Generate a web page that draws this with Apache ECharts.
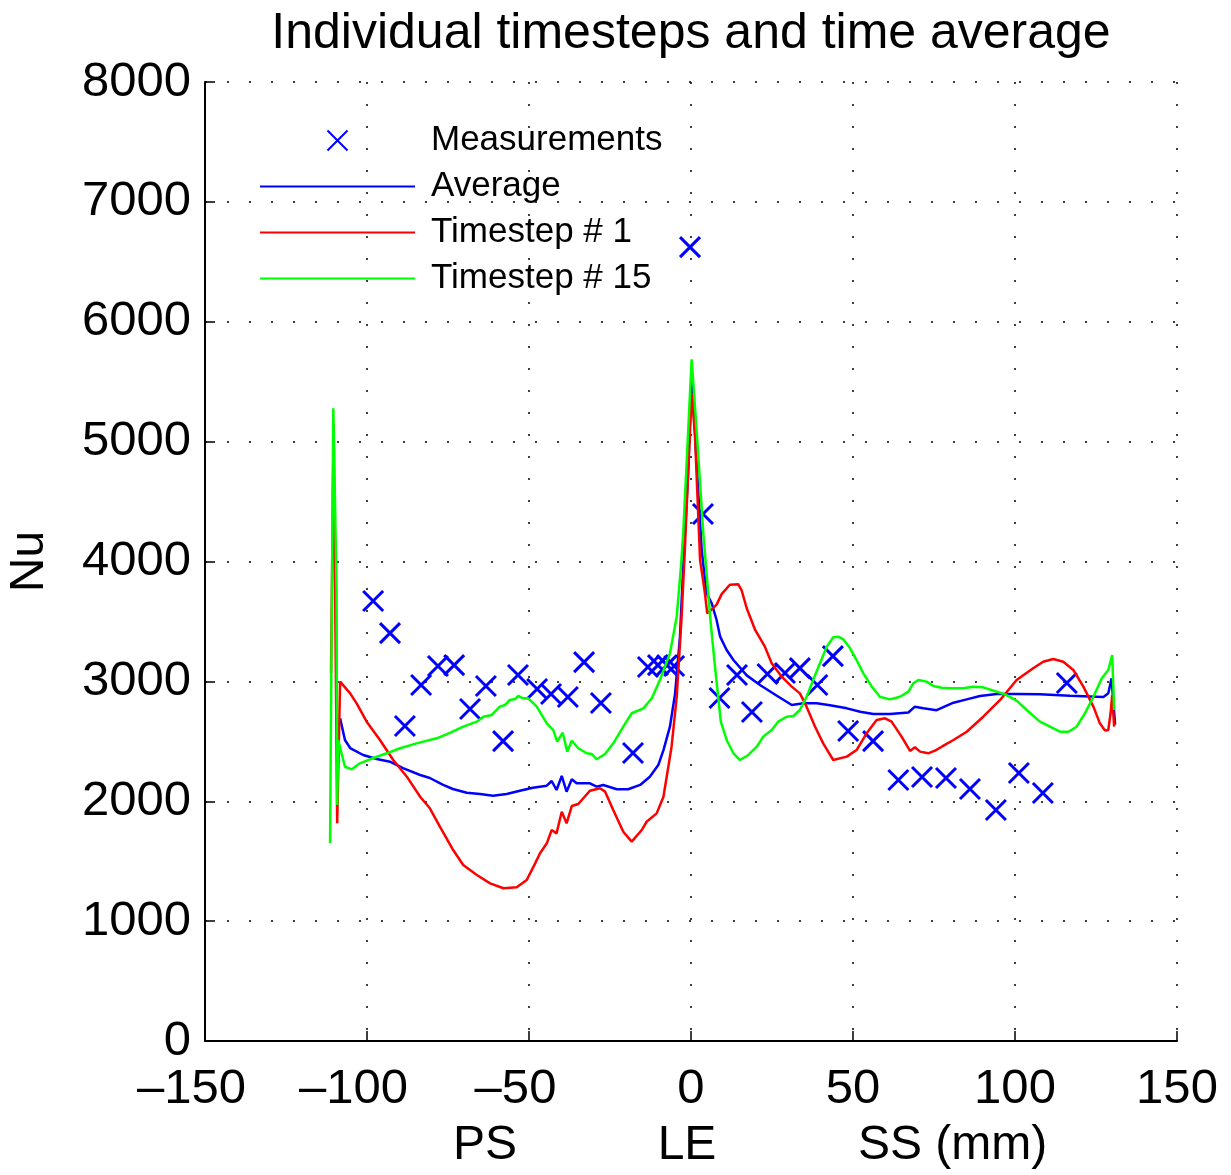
<!DOCTYPE html>
<html>
<head>
<meta charset="utf-8">
<title>Individual timesteps and time average</title>
<script src="https://cdn.jsdelivr.net/npm/echarts@6/dist/echarts.min.js"></script>
<style>
  html, body { margin: 0; padding: 0; background: #fff; }
  #chart { width: 1231px; height: 1175px; }
</style>
</head>
<body>
<div id="chart"></div>
<script>
// measured points (position along profile in mm, Nu)
const measX = [-98.1, -92.9, -88.3, -83.3, -78.1, -73.1, -68.2, -63.3, -58.0, -53.4,
  -47.5, -43.2, -38.0, -33.0, -27.8, -17.9, -13.3, -10.2, -7.4, -5.2,
  -0.3, 3.7, 8.8, 14.2, 18.8, 23.6, 29.0, 33.6, 39.0, 43.8,
  48.5, 56.2, 64.0, 71.3, 78.7, 86.1, 94.1, 101.2, 108.6, 116.0]
const measY = [3670, 3403, 2628, 2970, 3128, 3136, 2770, 2961, 2502, 3053,
  2936, 2895, 2870, 3161, 2820, 2402, 3120, 3136, 3136, 3128,
  6623, 4396, 2861, 3053, 2744, 3061, 3070, 3111, 2970, 3211,
  2586, 2502, 2177, 2202, 2194, 2102, 1927, 2236, 2069, 2986]

// time average
const avgX = [-108.3, -106.8, -105.2, -101.2, -97.0, -92.9, -88.9, -83.6, -80.6, -76.5,
  -73.5, -69.2, -65.1, -61.1, -56.9, -52.8, -48.8, -44.5, -43.0, -41.5,
  -39.9, -38.4, -36.8, -35.3, -31.2, -29.1, -27.1, -22.9, -19.4, -15.7,
  -12.7, -10.1, -8.5, -6.5, -4.9, -3.4, -2.4, -0.8, 0.2, 1.8,
  3.3, 4.8, 6.4, 7.9, 9.0, 11.0, 13.1, 17.2, 21.3, 26.5,
  31.1, 34.7, 38.8, 42.9, 48.1, 52.2, 56.3, 61.4, 67.1, 69.1,
  71.7, 75.8, 81.0, 85.1, 89.2, 94.4, 100.5, 107.7, 117.0, 127.3,
  128.8, 129.8, 130.3, 130.9]
const avgY = [2692, 2511, 2444, 2386, 2352, 2330, 2277, 2219, 2194, 2136,
  2102, 2071, 2060, 2046, 2060, 2088, 2113, 2130, 2169, 2094,
  2211, 2080, 2183, 2150, 2150, 2122, 2136, 2100, 2100, 2136,
  2205, 2302, 2427, 2622, 2900, 3373, 3957, 4791, 5570, 4791,
  4096, 3735, 3651, 3512, 3373, 3262, 3178, 3050, 2970, 2880,
  2803, 2817, 2817, 2800, 2775, 2747, 2728, 2728, 2740, 2789,
  2775, 2760, 2822, 2850, 2878, 2895, 2895, 2892, 2881, 2870,
  2900, 3026, 2845, 2640]

// timestep # 1
const ts1X = [-111.1, -110.3, -109.2, -108.3, -107.8, -105.2, -103.2, -100.1, -96.0, -91.9,
  -87.7, -83.6, -80.6, -77.5, -73.4, -70.3, -66.1, -62.0, -57.9, -53.8,
  -50.7, -48.1, -46.6, -44.5, -43.0, -41.5, -39.9, -38.4, -36.8, -34.8,
  -31.2, -28.1, -26.5, -24.0, -20.9, -18.3, -15.2, -13.7, -10.6, -8.5,
  -6.0, -4.4, -2.9, -1.9, 0.2, 1.2, 2.8, 4.3, 5.0, 6.4,
  7.9, 9.5, 12.0, 14.6, 15.6, 17.2, 19.8, 22.8, 24.9, 28.0,
  31.1, 33.6, 35.2, 38.3, 40.8, 43.9, 48.1, 51.1, 54.2, 57.3,
  59.9, 61.9, 65.0, 67.6, 69.1, 70.7, 73.2, 75.3, 77.4, 81.0,
  85.1, 90.2, 95.4, 100.5, 105.6, 108.7, 111.8, 114.9, 118.0, 121.1,
  124.2, 126.2, 127.8, 128.8, 129.5, 130.0, 130.6]
const ts1Y = [3067, 5150, 1816, 2998, 2998, 2900, 2817, 2664, 2511, 2344,
  2205, 2038, 1941, 1788, 1593, 1468, 1385, 1315, 1274, 1282,
  1343, 1482, 1566, 1649, 1760, 1732, 1913, 1816, 1960, 1977,
  2088, 2108, 2080, 1927, 1746, 1663, 1760, 1829, 1899, 2038,
  2455, 2872, 3540, 4096, 5403, 5070, 4013, 3735, 3568, 3600,
  3640, 3730, 3806, 3810, 3762, 3610, 3429, 3290, 3151, 3039,
  2956, 2900, 2817, 2622, 2483, 2344, 2372, 2427, 2567, 2678,
  2692, 2664, 2539, 2420, 2450, 2414, 2400, 2422, 2455, 2511,
  2580, 2705, 2845, 3011, 3109, 3164, 3187, 3164, 3095, 2956,
  2789, 2650, 2589, 2595, 2734, 2886, 2622]

// timestep # 15
const ts15X = [-111.4, -110.4, -109.4, -109.2, -108.9, -106.8, -104.7, -102.2, -99.1, -93.9,
  -89.8, -84.7, -78.5, -74.4, -70.3, -66.1, -64.1, -61.5, -59.0, -57.4,
  -55.9, -54.3, -53.3, -51.8, -50.2, -47.6, -44.5, -42.5, -41.3, -39.6,
  -38.2, -36.8, -34.8, -32.2, -30.6, -29.1, -26.5, -24.0, -20.9, -18.3,
  -14.7, -12.1, -9.6, -6.5, -4.4, -3.1, -2.4, 0.2, 1.8, 3.8,
  5.9, 7.4, 9.2, 11.0, 13.1, 15.1, 17.7, 20.3, 22.3, 24.9,
  26.9, 29.5, 31.6, 33.6, 35.7, 37.7, 39.8, 41.9, 43.9, 45.5,
  47.0, 49.1, 51.1, 53.2, 55.8, 58.3, 61.4, 64.5, 67.1, 68.6,
  70.2, 72.7, 74.8, 77.4, 79.9, 84.0, 87.1, 90.2, 94.4, 97.4,
  100.5, 103.6, 107.7, 110.8, 113.9, 116.5, 119.0, 121.6, 124.2, 126.8,
  128.8, 130.0, 130.6]
const ts15Y = [1651, 5278, 3790, 1969, 2511, 2288, 2266, 2316, 2350, 2400,
  2442, 2483, 2525, 2570, 2622, 2664, 2705, 2720, 2789, 2803,
  2845, 2853, 2878, 2859, 2859, 2789, 2650, 2594, 2497, 2572,
  2414, 2505, 2442, 2400, 2394, 2350, 2394, 2483, 2622, 2734,
  2775, 2859, 3011, 3234, 3540, 3957, 4235, 5687, 5070, 4235,
  3540, 3123, 2664, 2511, 2400, 2344, 2386, 2455, 2539, 2594,
  2664, 2705, 2711, 2761, 2872, 3011, 3151, 3290, 3368, 3373,
  3351, 3276, 3178, 3067, 2956, 2872, 2850, 2872, 2914, 2984,
  3011, 2998, 2961, 2947, 2942, 2942, 2956, 2950, 2914, 2886,
  2839, 2761, 2664, 2622, 2580, 2580, 2622, 2734, 2872, 3026,
  3095, 3220, 2761]

const xTicks = { min: -150, max: 150, step: 50 }
const yTicks = { min: 0, max: 8000, step: 1000 }

const zip = (xs, ys) => xs.map((x, i) => [x, ys[i]])

const font = 'Liberation Sans, Arial, Helvetica, sans-serif'
const dotted = { color: '#000', width: 1.5, type: [2, 20] }
// plain line sample for the legend (no symbol in the middle)
const lineIcon = 'path://M0,0L155,0L155,2.2L0,2.2Z'

const chart = echarts.init(document.getElementById('chart'), null, { renderer: 'canvas' })

const option = {
  animation: false,
  backgroundColor: '#fff',
  textStyle: { fontFamily: font, color: '#000' },
  title: {
    text: 'Individual timesteps and time average',
    left: 686,
    top: 4,
    textAlign: 'center',
    textStyle: { fontFamily: font, fontSize: 50, fontWeight: 'normal', color: '#000' }
  },
  legend: {
    orient: 'vertical',
    left: 255,
    top: 118,
    itemWidth: 155,
    itemHeight: 20,
    itemGap: 11,
    textStyle: { fontFamily: font, fontSize: 35, color: '#000', padding: [0, 0, 0, 11] },
    data: [
      { name: 'Measurements' },
      { name: 'Average', icon: lineIcon },
      { name: 'Timestep # 1', icon: lineIcon },
      { name: 'Timestep # 15', icon: lineIcon }
    ]
  },
  grid: { left: 205, right: 54, top: 82, bottom: 134, containLabel: false, outerBoundsMode: 'none' },
  xAxis: {
    type: 'value',
    min: xTicks.min,
    max: xTicks.max,
    interval: xTicks.step,
    axisLine: { show: true, onZero: false, lineStyle: { color: '#000', width: 2 } },
    axisTick: { show: true, inside: true, length: 10, lineStyle: { color: '#000', width: 1.5 } },
    axisLabel: {
      fontFamily: font, fontSize: 49, color: '#000', margin: 24,
      // the digits sit on the tick, the dash hangs out to the left
      formatter: v => v < 0 ? '{neg|' + String(v).replace('-', '\u2013') + '}' : String(v),
      rich: { neg: { fontFamily: font, fontSize: 49, color: '#000', padding: [0, 27, 0, 0] } }
    },
    splitLine: { show: true, lineStyle: dotted }
  },
  yAxis: {
    type: 'value',
    min: yTicks.min,
    max: yTicks.max,
    interval: yTicks.step,
    name: 'Nu',
    nameLocation: 'middle',
    nameGap: 151,
    nameTextStyle: { fontFamily: font, fontSize: 48, color: '#000' },
    axisLine: { show: true, onZero: false, lineStyle: { color: '#000', width: 2 } },
    axisTick: { show: true, inside: true, length: 10, lineStyle: { color: '#000', width: 1.5 } },
    axisLabel: { fontFamily: font, fontSize: 49, color: '#000', margin: 14, formatter: v => String(v) },
    splitLine: { show: true, lineStyle: dotted }
  },
  graphic: [
    { type: 'text', x: 485, y: 1146, style: { text: 'PS', font: '48px ' + font, fill: '#000', textAlign: 'center', textVerticalAlign: 'middle' } },
    { type: 'text', x: 687, y: 1146, style: { text: 'LE', font: '48px ' + font, fill: '#000', textAlign: 'center', textVerticalAlign: 'middle' } },
    { type: 'text', x: 858, y: 1146, style: { text: 'SS (mm)', font: '48px ' + font, fill: '#000', textAlign: 'left', textVerticalAlign: 'middle' } }
  ],
  series: [
    {
      name: 'Measurements',
      type: 'scatter',
      symbol: 'path://M0,0L20,20M20,0L0,20',
      symbolSize: 20,
      itemStyle: { color: '#0000ff', borderColor: '#0000ff', borderWidth: 3, opacity: 1 },
      data: zip(measX, measY)
    },
    {
      name: 'Average',
      type: 'line',
      symbol: 'none',
      lineStyle: { color: '#0000ff', width: 2.5 },
      itemStyle: { color: '#0000ff' },
      data: zip(avgX, avgY)
    },
    {
      name: 'Timestep # 1',
      type: 'line',
      symbol: 'none',
      lineStyle: { color: '#ff0000', width: 2.5 },
      itemStyle: { color: '#ff0000' },
      data: zip(ts1X, ts1Y)
    },
    {
      name: 'Timestep # 15',
      type: 'line',
      symbol: 'none',
      lineStyle: { color: '#00ff00', width: 2.5 },
      itemStyle: { color: '#00ff00' },
      data: zip(ts15X, ts15Y)
    }
  ]
}

chart.setOption(option)
</script>
</body>
</html>
